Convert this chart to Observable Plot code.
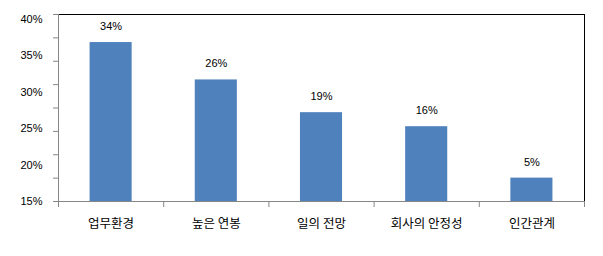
<!DOCTYPE html>
<html>
<head>
<meta charset="utf-8">
<script src="https://cdn.jsdelivr.net/npm/d3@7"></script>
<script src="https://cdn.jsdelivr.net/npm/@observablehq/plot@0.6"></script>
<style>
  html, body { margin: 0; padding: 0; background: #fff; }
  #chart svg { display: block; }
</style>
</head>
<body>
<div id="chart"></div>
<script>
const categories = ["업무환경", "높은 연봉", "일의 전망", "회사의 안정성", "인간관계"];
const values = [34, 26, 19, 16, 5];
const yTickLabels = ["15%", "20%", "25%", "30%", "35%", "40%"];

const data = categories.map((c, i) => ({ cat: c, value: values[i], i }));
// labels spread evenly over the axis (as in the source chart)
const labelPos = yTickLabels.map((_, i) => i * 7.8);

const gray = "#868686";
const chart = Plot.plot({
  width: 603,
  height: 256,
  marginLeft: 58,
  marginRight: 19,
  marginTop: 14,
  marginBottom: 55,
  style: { fontFamily: "'Liberation Sans', Arial, sans-serif", fontSize: "11px", color: "#000", background: "#fff" },
  x: { domain: [0, categories.length], axis: null },
  y: { domain: [0, 40], axis: null },
  marks: [
    Plot.rectY(data, { x1: d => d.i + 0.3, x2: d => d.i + 0.7, y: "value", fill: "#4F81BD" }),
    Plot.frame({ anchor: "top", stroke: "#000" }),
    Plot.frame({ anchor: "right", stroke: "#000" }),
    Plot.frame({ anchor: "left", stroke: gray }),
    Plot.frame({ anchor: "bottom", stroke: gray }),
    Plot.axisY({ ticks: d3.range(0, 41, 5), tickSize: 5, tickFormat: () => "", stroke: gray, label: null }),
    Plot.axisY({ ticks: labelPos, tickSize: 0, tickPadding: 16, tickFormat: (d, i) => yTickLabels[i], fontSize: 11, label: null }),
    Plot.axisX({ ticks: d3.range(0, categories.length + 1), tickSize: 6, tickFormat: () => "", stroke: gray, label: null }),
    Plot.axisX({ ticks: categories.map((_, i) => i + 0.5), tickSize: 0, tickPadding: 18, label: null,
      tickFormat: d => categories[Math.floor(d)], fontSize: 12.5, fontFamily: "'Noto Sans CJK KR', sans-serif" }),
    Plot.text(data, { x: d => d.i + 0.5, y: "value", text: d => d.value + "%", dy: -16, fontSize: 11 })
  ]
});
document.getElementById("chart").appendChild(chart);
</script>
</body>
</html>
